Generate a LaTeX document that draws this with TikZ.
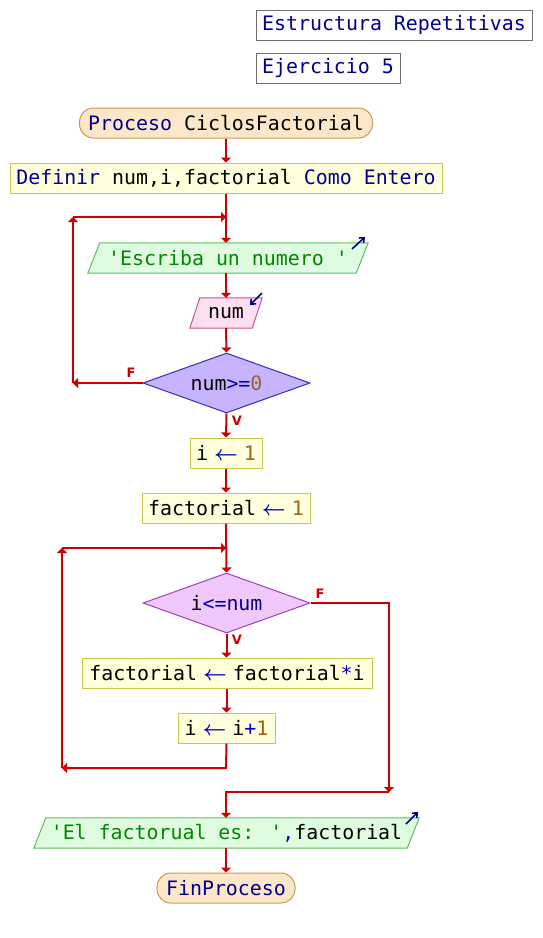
\documentclass[tikz,border=0pt]{standalone}
\usepackage{fontspec}
\usepackage{amsmath,bm}
\usetikzlibrary{shapes.geometric,arrows.meta,backgrounds}
\newfontfamily\pmono{DejaVu Sans Mono}
\newfontfamily\plab{DejaVu Sans}
\definecolor{flowred}{HTML}{CC0000}
\definecolor{kwnavy}{HTML}{000090}
\definecolor{strgreen}{HTML}{008800}
\definecolor{numbrown}{HTML}{A06020}
\definecolor{opblue}{HTML}{0000C0}
\definecolor{boxfill}{HTML}{FFFFDC}
\definecolor{boxline}{HTML}{C8C850}
\definecolor{termfill}{HTML}{FCE8C8}
\definecolor{termline}{HTML}{C89C50}
\definecolor{outfill}{HTML}{E0FCE0}
\definecolor{outline}{HTML}{60C060}
\definecolor{infill}{HTML}{FCE0F0}
\definecolor{inline}{HTML}{D05090}
\definecolor{dafill}{HTML}{C8B4FC}
\definecolor{daline}{HTML}{3030C0}
\definecolor{dbfill}{HTML}{F0C8FC}
\definecolor{dbline}{HTML}{A040C0}
\definecolor{titleline}{HTML}{707070}
\newcommand{\kwd}[1]{\textcolor{kwnavy}{#1}}
\newcommand{\strg}[1]{\textcolor{strgreen}{#1}}
\newcommand{\nmb}[1]{\textcolor{numbrown}{#1}}
\newcommand{\opr}[1]{\textcolor{opblue}{#1}}
\newcommand{\asg}{\makebox[35.8pt][c]{\textcolor{opblue}{$\boldsymbol{\leftarrow}$}}}
\begin{document}
\begin{tikzpicture}[x=1pt,y=-1pt,
  every node/.style={font=\pmono\fontsize{19.9}{22}\selectfont, inner sep=0pt, minimum height=30pt},
  titlebox/.style={draw=titleline, line width=1pt, fill=white, text=kwnavy},
  procbox/.style={draw=boxline, line width=1pt, fill=boxfill},
  termbox/.style={draw=termline, line width=1pt, fill=termfill, rounded corners=14pt},
  decbox/.style={diamond, aspect=2.78, minimum width=167pt, minimum height=60pt, line width=1pt},
  flow/.style={draw=flowred, line width=2pt},
  flowarrow/.style={flow, -{Triangle[length=5pt,width=10pt]}},
  lbl/.style={font=\plab\bfseries\fontsize{13}{14}\selectfont, text=flowred, minimum height=0pt},
  icon/.style={draw=kwnavy, line width=1.6pt, -{Straight Barb[length=4pt,width=7pt]}}
]
\useasboundingbox (0,0) rectangle (542,938);

% titles
\node[titlebox, minimum width=276pt] (t1) at (394,25) {Estructura Repetitivas};
\node[titlebox, minimum width=144pt] (t2) at (328,68) {Ejercicio 5};

% main nodes
\node[termbox, minimum width=293pt] (start) at (226,123) {\kwd{Proceso} CiclosFactorial};
\node[procbox, minimum width=432pt] (def) at (226,178) {\kwd{Definir} num,i,factorial \kwd{Como Entero}};
\node[minimum width=268pt] (esc) at (228,258) {\strg{'Escriba un numero '}};
\node[minimum width=62pt] (num) at (226,313) {num};
\node[decbox, draw=daline, fill=dafill] (d1) at (226.5,383) {num\opr{>=}\nmb{0}};
\node[procbox, minimum width=72pt] (i1) at (226,453) {i\asg\nmb{1}};
\node[procbox, minimum width=168pt] (f1) at (226,508) {factorial\asg\nmb{1}};
\node[decbox, draw=dbline, fill=dbfill] (d2) at (226.5,603) {i\opr{<=}\kwd{num}};
\node[procbox, minimum width=290pt] (f2) at (227,673) {factorial\asg factorial\opr{*}i};
\node[procbox, minimum width=97pt] (i2) at (226.5,728) {i\asg i\opr{+}\nmb{1}};
\node[minimum width=373pt] (out) at (226.5,833) {\strg{'El factorual es: '}\opr{,}factorial};
\node[termbox, minimum width=138pt] (fin) at (226,888) {\kwd{FinProceso}};

% parallelogram outlines
\begin{scope}[on background layer]
\draw[draw=outline, line width=1pt, fill=outfill]
  ([xshift=6pt]esc.north west) -- ([xshift=6pt]esc.north east) -- ([xshift=-6pt]esc.south east) -- ([xshift=-6pt]esc.south west) -- cycle;
\draw[draw=inline, line width=1pt, fill=infill]
  ([xshift=5pt]num.north west) -- ([xshift=5pt]num.north east) -- ([xshift=-5pt]num.south east) -- ([xshift=-5pt]num.south west) -- cycle;
\draw[draw=outline, line width=1pt, fill=outfill]
  ([xshift=6pt]out.north west) -- ([xshift=6pt]out.north east) -- ([xshift=-6pt]out.south east) -- ([xshift=-6pt]out.south west) -- cycle;
\end{scope}

% io icons
\coordinate (ic1a) at (352,249); \coordinate (ic1b) at (365,237);
\draw[icon] (ic1a) -- (ic1b);
\coordinate (ic2a) at (262,293); \coordinate (ic2b) at (250,305);
\draw[icon] (ic2a) -- (ic2b);
\coordinate (ic3a) at (406,824); \coordinate (ic3b) at (418,812);
\draw[icon] (ic3a) -- (ic3b);

% junction coordinates
\coordinate (j1) at (226,217);
\coordinate (l1t) at (73,217);
\coordinate (l1b) at (73,383);
\coordinate (j2) at (226,548);
\coordinate (l2t) at (62,548);
\coordinate (l2b) at (62,768);
\coordinate (c2) at (226,768);
\coordinate (r1) at (389,603);
\coordinate (r2) at (389,792);
\coordinate (r3) at (226,792);

% main flow
\draw[flowarrow] (start.south) -- (def.north);
\draw[flowarrow] (def.south) -- (def.south |- esc.north);
\draw[flowarrow] (esc.south -| num.north) -- (num.north);
\draw[flowarrow] (num.south) -- (d1.north);
\draw[flowarrow] (d1.south) -- (i1.north);
\draw[flowarrow] (i1.south) -- (f1.north);
\draw[flowarrow] (f1.south) -- (d1.south |- d2.north);
\draw[flowarrow] (d2.south) -- (d2.south |- f2.north);
\draw[flowarrow] (f2.south -| i2.north) -- (i2.north);
\draw[flowarrow] (out.south -| fin.north) -- (fin.north);

% loop 1
\draw[flowarrow] (d1.west) -- (l1b);
\draw[flowarrow] (l1b) -- (l1t);
\draw[flowarrow] (l1t) -- (j1);

% loop 2
\draw[flowarrow] (i2.south) -- (c2) -- (l2b);
\draw[flowarrow] (l2b) -- (l2t);
\draw[flowarrow] (l2t) -- (j2);

% exit of loop 2
\draw[flowarrow] (d2.east) -- (r1) -- (r2);
\draw[flowarrow] (r2) -- (r3) -- (r3 |- out.north);

% labels
\node[lbl] (fl1) at (131,373) {F};
\node[lbl] (vl1) at (237,421) {V};
\node[lbl] (fl2) at (320,594) {F};
\node[lbl] (vl2) at (237,640) {V};
\end{tikzpicture}
\end{document}
